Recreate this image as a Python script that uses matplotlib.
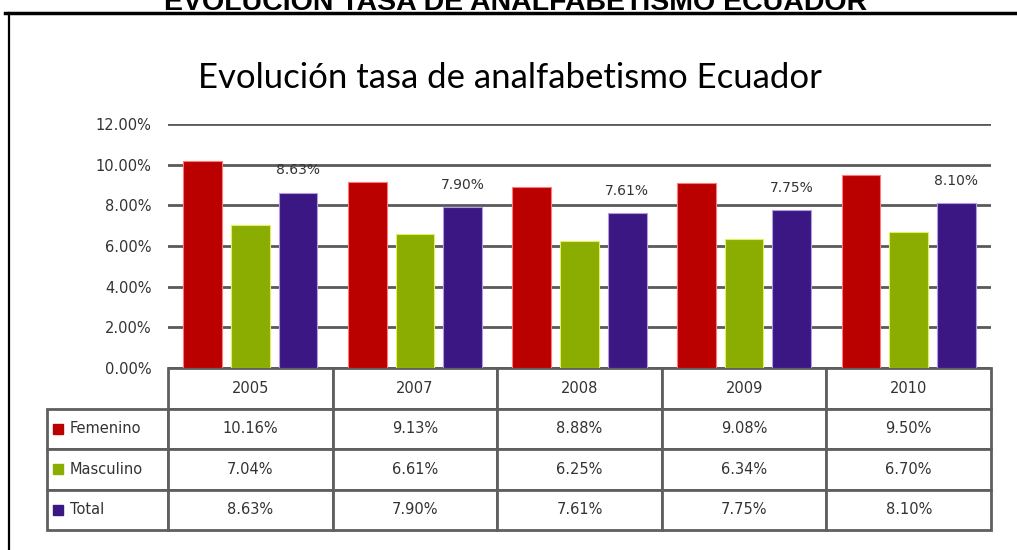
import matplotlib
matplotlib.use("Agg")
import matplotlib.pyplot as plt
import numpy as np
from matplotlib.lines import Line2D

plt.rcParams['font.family'] = ['DejaVu Sans']

# datos
years = ['2005', '2007', '2008', '2009', '2010']
series_names = ['Femenino', 'Masculino', 'Total']
femenino = [10.16, 9.13, 8.88, 9.08, 9.50]
masculino = [7.04, 6.61, 6.25, 6.34, 6.70]
total = [8.63, 7.90, 7.61, 7.75, 8.10]
yticks = [0, 2, 4, 6, 8, 10, 12]

colors = ['#bb0000', '#8bac00', '#3a1783']
edge_colors = ['#ff7a7a', '#e0f060', '#b49be0']
txt_color = '#333333'

W, H = 1017, 550
fig = plt.figure(figsize=(W / 100, H / 100), dpi=100)

# marco y encabezado (el encabezado queda cortado arriba como en la imagen)
fig.add_artist(Line2D([5 / W, 1], [1 - 13 / H, 1 - 13 / H], color='black', lw=2.5))
fig.add_artist(Line2D([8.5 / W, 8.5 / W], [0, 1 - 13 / H], color='black', lw=1.6))
fig.text(516 / W, 1 - 10 / H, 'EVOLUCIÓN TASA DE ANALFABETISMO ECUADOR',
         ha='center', va='baseline', fontsize=20.5, fontweight='bold',
         family='Liberation Sans')
fig.text(510 / W, 1 - 78 / H, 'Evolución tasa de analfabetismo Ecuador',
         ha='center', va='center', fontsize=25, family='Lato')

x0, x1 = 168, 991
y_top, y_bot = 124, 368
ax = fig.add_axes([x0 / W, 1 - y_bot / H, (x1 - x0) / W, (y_bot - y_top) / H])

x = np.arange(len(years))
bw = 0.235
offsets = [-0.29, 0, 0.29]
data = [femenino, masculino, total]
for i, vals in enumerate(data):
    ax.bar(x + offsets[i], vals, width=bw, color=colors[i],
           edgecolor=edge_colors[i], linewidth=0.8, zorder=3)

for xi, v in zip(x, total):
    ax.annotate(f'{v:.2f}%', (xi + offsets[2], v), xytext=(0, 16),
                textcoords='offset points', ha='center', va='center',
                fontsize=10, color=txt_color, zorder=4)

ax.set_xlim(-0.5, len(years) - 0.5)
ax.set_ylim(0, 12)
ax.set_yticks(yticks)
ax.set_yticklabels([f'{t:.2f}%' for t in yticks], fontsize=10.5, color=txt_color)
ax.tick_params(axis='y', length=0, pad=12)
ax.set_xticks([])
ax.grid(axis='y', color='#5a5a5a', linewidth=2, zorder=1)
for s in ax.spines.values():
    s.set_visible(False)

# tabla de datos
cell_text = [[name] + [f'{v:.2f}%' for v in vals] for name, vals in zip(series_names, data)]
label_w = 121
col_w = (x1 - x0) / len(years)
tot_w = label_w + col_w * len(years)
ax_w = x1 - x0
ax_h = y_bot - y_top
tbl_bottom = 530
tbl = ax.table(cellText=cell_text, colLabels=[''] + years,
               colWidths=[label_w / tot_w] + [col_w / tot_w] * len(years),
               cellLoc='center',
               bbox=[(47 - x0) / ax_w, -(tbl_bottom - y_bot) / ax_h,
                     (x1 - 47) / ax_w, (tbl_bottom - y_bot) / ax_h])
tbl.auto_set_font_size(False)
tbl.set_fontsize(10.5)
for (r, c), cell in tbl.get_celld().items():
    cell.set_edgecolor('#5f5f5f')
    cell.set_linewidth(2)
    cell.get_text().set_color(txt_color)
    if r == 0 and c == 0:
        cell.set_visible(False)
    if c == 0 and r > 0:
        cell.PAD = 0.19
        cell.get_text().set_ha('left')
        cell._loc = 'left'

# cuadros de leyenda
row_h = (tbl_bottom - y_bot) / 4
for i in range(len(series_names)):
    yc = y_bot + row_h * (i + 1.5)
    ax.plot([(58 - x0) / ax_w], [(y_bot - yc) / ax_h], marker='s', markersize=6.5,
            color=colors[i], transform=ax.transAxes, clip_on=False)

fig.savefig('out.png', dpi=100)
